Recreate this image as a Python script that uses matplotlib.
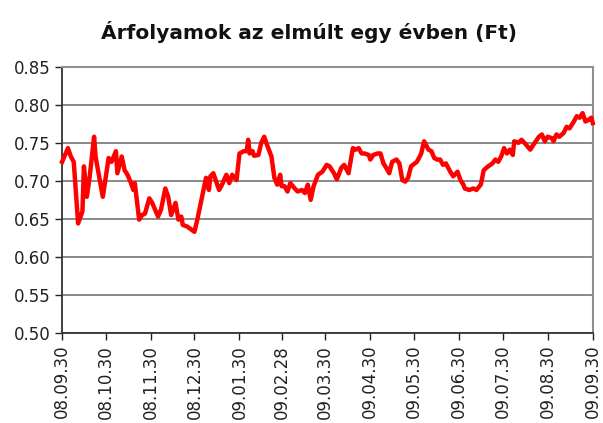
import pandas as pd
import matplotlib
matplotlib.use('Agg')
import matplotlib.pyplot as plt
import matplotlib.dates as mdates

# Data: days after 2008-09-30 and rate (Ft)
start_date = '2008-09-30'
days = [0, 4, 6, 8, 11, 14, 15, 17, 19, 22, 23, 28, 32, 34, 37, 38, 41, 43, 45, 47,
        49, 50, 53, 55, 57, 60, 62, 66, 68, 71, 73, 75, 78, 80, 82, 83, 86, 91, 93, 99,
        101, 102, 104, 108, 110, 113, 115, 117, 120, 122, 125, 127, 128, 129, 131, 132, 135, 137, 139, 141,
        144, 146, 148, 150, 151, 153, 155, 157, 160, 162, 165, 167, 169, 171, 173, 176, 179, 182, 184, 187,
        189, 192, 194, 197, 200, 202, 204, 206, 208, 211, 212, 214, 217, 219, 221, 223, 225, 227, 230, 232,
        234, 236, 238, 240, 244, 246, 247, 249, 252, 254, 256, 258, 260, 262, 264, 267, 269, 270, 272, 274,
        276, 277, 280, 283, 285, 288, 290, 293, 296, 298, 300, 302, 304, 306, 308, 310, 311, 314, 316, 318,
        322, 324, 328, 330, 332, 334, 337, 338, 340, 342, 345, 347, 349, 352, 354, 356, 358, 360, 362, 364,
        365]
rates = [0.725, 0.743, 0.732, 0.725, 0.644, 0.660, 0.719, 0.679, 0.706, 0.758, 0.732, 0.679, 0.730, 0.725, 0.739, 0.710, 0.732, 0.714, 0.708, 0.699,
         0.688, 0.697, 0.649, 0.655, 0.657, 0.677, 0.671, 0.653, 0.662, 0.690, 0.679, 0.655, 0.671, 0.649, 0.653, 0.642, 0.640, 0.633, 0.649, 0.704,
         0.688, 0.706, 0.710, 0.688, 0.695, 0.708, 0.697, 0.708, 0.701, 0.736, 0.739, 0.739, 0.754, 0.736, 0.739, 0.733, 0.734, 0.750, 0.758, 0.747,
         0.732, 0.704, 0.695, 0.708, 0.693, 0.693, 0.686, 0.697, 0.690, 0.686, 0.688, 0.684, 0.695, 0.675, 0.693, 0.708, 0.712, 0.721, 0.719, 0.710,
         0.702, 0.717, 0.721, 0.710, 0.743, 0.741, 0.743, 0.736, 0.736, 0.734, 0.728, 0.734, 0.736, 0.736, 0.723, 0.717, 0.710, 0.725, 0.728, 0.723,
         0.701, 0.699, 0.704, 0.719, 0.725, 0.732, 0.736, 0.752, 0.741, 0.739, 0.730, 0.728, 0.728, 0.721, 0.723, 0.712, 0.706, 0.708, 0.712, 0.701,
         0.695, 0.690, 0.688, 0.690, 0.688, 0.695, 0.714, 0.719, 0.723, 0.728, 0.725, 0.732, 0.743, 0.736, 0.741, 0.734, 0.752, 0.750, 0.754, 0.750,
         0.741, 0.747, 0.758, 0.761, 0.752, 0.758, 0.756, 0.752, 0.761, 0.758, 0.763, 0.771, 0.769, 0.778, 0.785, 0.783, 0.789, 0.778, 0.780, 0.783,
         0.776]
tick_dates = ['2008-09-30', '2008-10-30', '2008-11-30', '2008-12-30', '2009-01-30', '2009-02-28', '2009-03-30',
              '2009-04-30', '2009-05-30', '2009-06-30', '2009-07-30', '2009-08-30', '2009-09-30']
y_ticks = [0.50, 0.55, 0.60, 0.65, 0.70, 0.75, 0.80, 0.85]

dates = pd.to_datetime(start_date) + pd.to_timedelta(days, unit='D')
ticks = pd.to_datetime(tick_dates)

plt.rcParams['font.family'] = ['DejaVu Sans']

fig = plt.figure(figsize=(6.03, 4.23), dpi=100)
ax = fig.add_axes([0.103, 0.2128, 0.880, 0.6294])

ax.plot(dates, rates, color='#ff0000', linewidth=3.2, solid_joinstyle='round', clip_on=False, zorder=3)

ax.set_xlim(ticks[0], ticks[-1])
ax.set_ylim(0.50, 0.85)
ax.set_yticks(y_ticks)
ax.set_yticklabels([f'{v:.2f}' for v in y_ticks])
ax.set_xticks(ticks)
ax.xaxis.set_major_formatter(mdates.DateFormatter('%y.%m.%d'))
plt.setp(ax.get_xticklabels(), rotation=90)

ax.grid(axis='y', color='#808080', linewidth=1.3)
ax.set_axisbelow(True)
for side in ['top', 'right']:
    ax.spines[side].set_color('#909090')
    ax.spines[side].set_linewidth(1.5)
for side in ['left', 'bottom']:
    ax.spines[side].set_color('#333333')
    ax.spines[side].set_linewidth(1.3)
ax.tick_params(axis='both', labelsize=12, colors='#222222', length=5, width=1.0)

fig.text(0.513, 0.925, 'Árfolyamok az elmúlt egy évben (Ft)', ha='center', va='center',
         fontsize=14.5, fontweight='bold', color='#111111')

fig.savefig('out.png', dpi=100)
